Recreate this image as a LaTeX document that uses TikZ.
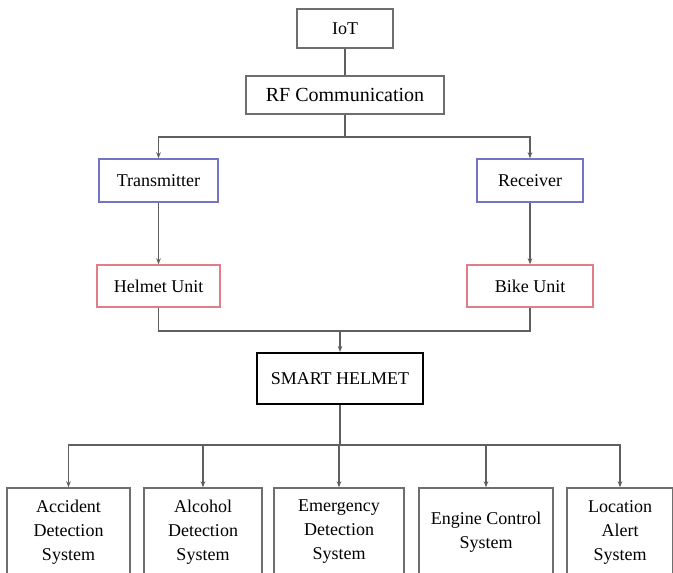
\documentclass[tikz,border=0pt]{standalone}
\usepackage{fontspec}
\setmainfont{Liberation Serif}
\usetikzlibrary{arrows.meta}

\definecolor{linegray}{RGB}{95,95,95}
\definecolor{boxgray}{RGB}{110,110,110}
\definecolor{txblue}{RGB}{115,115,200}
\definecolor{unitred}{RGB}{225,125,135}

\tikzset{
  box/.style={draw=boxgray, line width=1.1pt, fill=white, align=center, inner sep=2pt,
    font=\fontsize{13.5}{18}\selectfont},
  sysbox/.style={box, minimum height=66pt},
  link/.style={draw=linegray, line width=1.15pt},
}

\begin{document}
\begin{tikzpicture}[x=0.75pt, y=-0.75pt, >={Stealth[length=4.5pt,width=3.5pt]}]
 \useasboundingbox (0,0) rectangle (673,573);

 % top of the tree
 \node[box, minimum width=72pt, minimum height=29.25pt] (iot) at (345,28.5) {IoT};
 \node[box, minimum width=148.5pt, minimum height=28.5pt, font=\fontsize{15}{18}\selectfont] (rf) at (345,95) {RF Communication};

 \node[box, draw=txblue, minimum width=89.25pt, minimum height=32.25pt] (tx) at (158.5,180.5) {Transmitter};
 \node[box, draw=txblue, minimum width=79.5pt, minimum height=32.25pt] (rx) at (530,180.5) {Receiver};

 \node[box, draw=unitred, minimum width=92.25pt, minimum height=31.5pt] (hu) at (158.5,286) {Helmet Unit};
 \node[box, draw=unitred, minimum width=94.5pt, minimum height=31.5pt] (bu) at (530,286) {Bike Unit};

 \node[box, draw=black, line width=1.6pt, minimum width=124.5pt, minimum height=38.25pt] (sh) at (340,378.5) {SMART HELMET};

 % subsystems, running off the bottom edge
 \node[sysbox, minimum width=92.25pt] (ads) at (68.5,532) {Accident\\Detection\\System};
 \node[sysbox, minimum width=88.5pt] (als) at (203,532) {Alcohol\\Detection\\System};
 \node[sysbox, minimum width=97.5pt] (eds) at (339,532) {Emergency\\Detection\\System};
 \node[sysbox, minimum width=100.5pt] (ecs) at (486,532) {Engine Control\\System};
 \node[sysbox, minimum width=79.5pt] (las) at (620,532) {Location\\Alert\\System};

 \coordinate (split1) at (345,137);
 \coordinate (join) at (340,331);
 \coordinate (split2) at (340,445);

 \draw[link] (iot) -- (rf);
 \draw[link,->] (rf.south) -- (split1) -| (tx.north);
 \draw[link,->] (split1) -| (rx.north);
 \draw[link,->] (tx) -- (hu);
 \draw[link,->] (rx) -- (bu);
 \draw[link] (hu.south) |- (join) -| (bu.south);
 \draw[link,->] (join) -- (sh.north);
 \draw[link] (sh.south) -- (split2);
 \foreach \n in {ads,als,eds,ecs,las}
 {
     \draw[link,->] (split2) -| (\n.north);
 }
\end{tikzpicture}
\end{document}
